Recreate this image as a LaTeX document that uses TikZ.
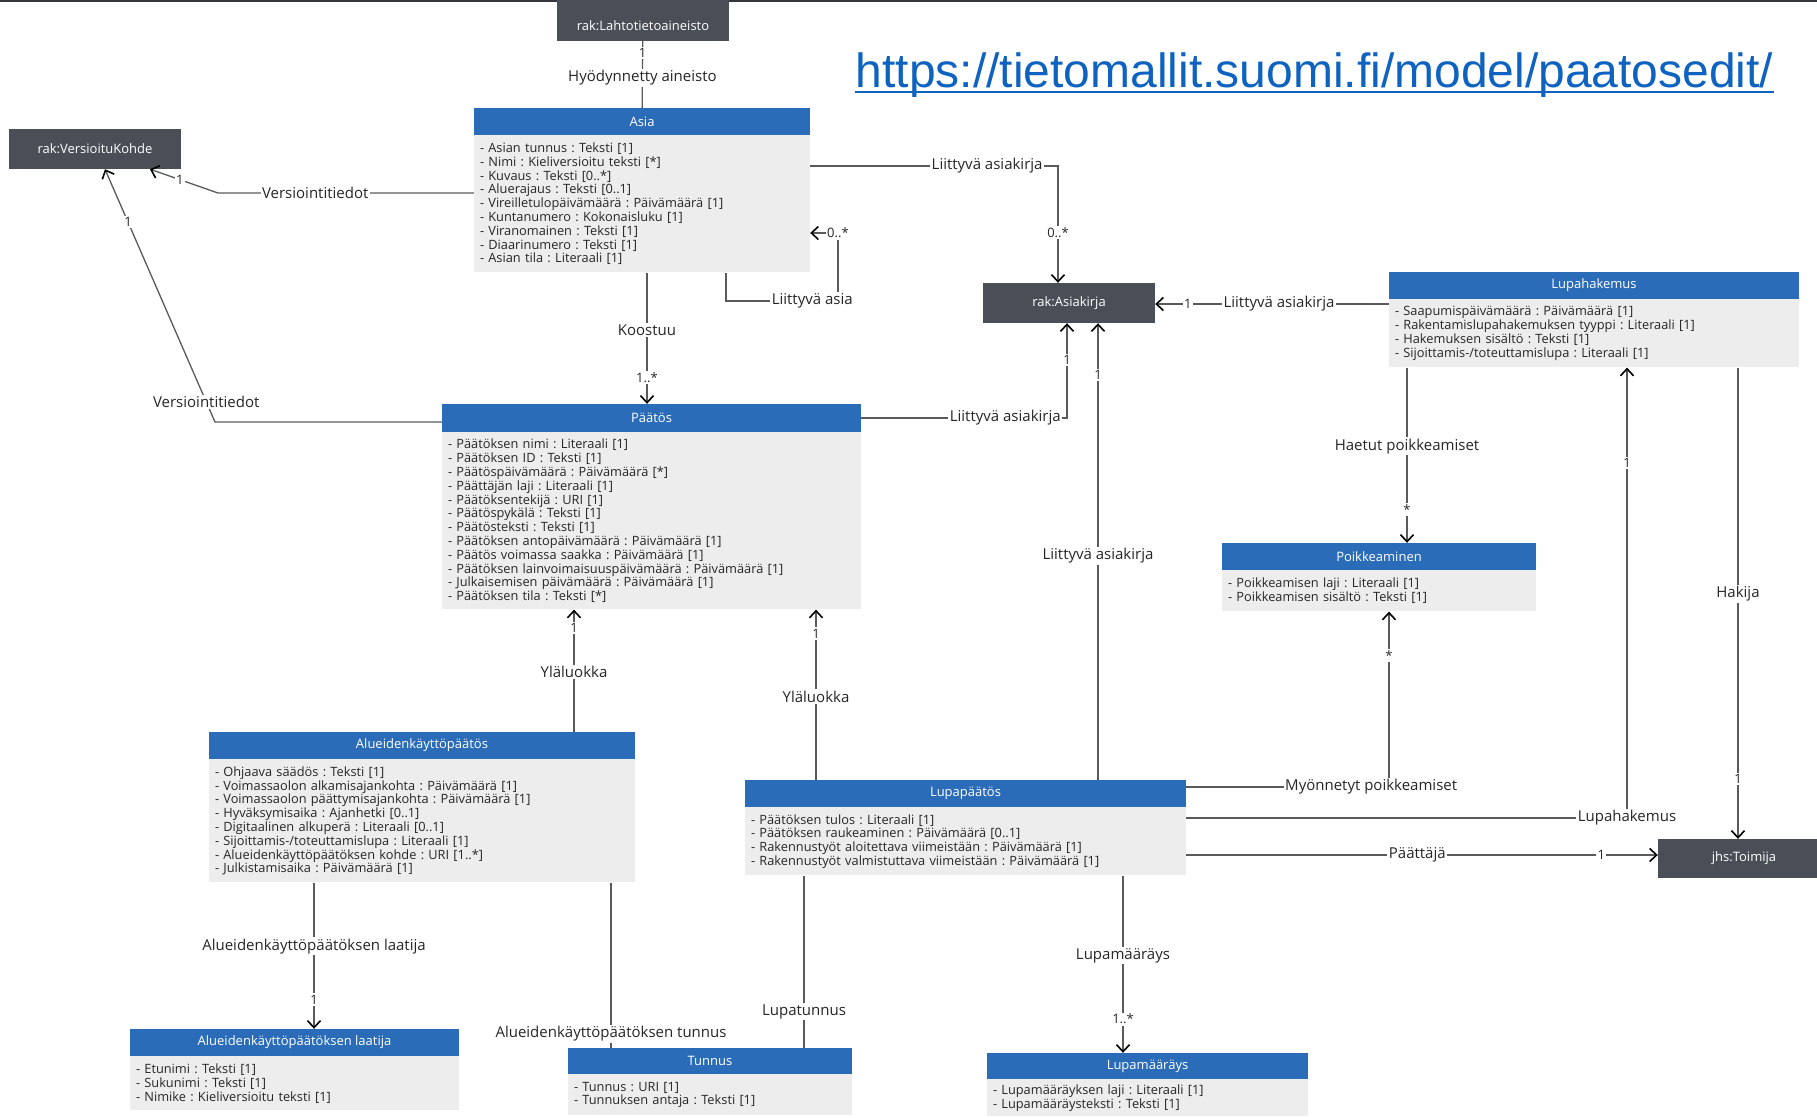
\documentclass[tikz,border=0pt]{standalone}
\usepackage{fontspec}
\setmainfont{Open Sans}
\newfontfamily\urlfont{Liberation Sans}
\usetikzlibrary{arrows.meta,positioning}
\frenchspacing

\definecolor{headblue}{HTML}{2B6CB9}
\definecolor{bodygray}{HTML}{EDEDED}
\definecolor{extgray}{HTML}{4A4F57}
\definecolor{linegray}{HTML}{5A5A5A}
\definecolor{txtdark}{HTML}{262626}
\definecolor{linkblue}{HTML}{0E62C0}

\begin{document}
\begin{tikzpicture}[x=1pt,y=-1pt,
            head/.style={fill=headblue,text=white,inner sep=0pt,font=\fontsize{13}{14}\selectfont},
            attrs/.style={fill=bodygray,text=txtdark,align=left,inner xsep=6pt,inner ysep=0pt,font=\fontsize{12.8}{13.8}\selectfont},
            ext/.style={fill=extgray,text=white,inner sep=0pt,minimum width=172pt,minimum height=40pt,font=\fontsize{13}{14}\selectfont},
            lab/.style={fill=white,text=txtdark,inner sep=1.5pt,font=\fontsize{15}{16}\selectfont},
            mult/.style={lab,font=\fontsize{13}{14}\selectfont},
            plain/.style={draw=linegray,line width=1.3pt},
            assoc/.style={plain,-{Straight Barb[length=7pt,width=13pt,line width=1.6pt,color=black]}}
          ]
          \useasboundingbox (0,0) rectangle (1817,1117);
          \draw[extgray!70!black,line width=2pt] (0,1) -- (1817,1);

          %link
          \node[font=\urlfont\fontsize{48}{50}\selectfont,text=linkblue,inner sep=0pt,anchor=base] (url) at (1314.5,87) {https://tietomallit.suomi.fi/model/paatosedit/};
          \draw[linkblue,line width=2.6pt] ([yshift=-5pt]url.base west) -- ([yshift=-5pt]url.base east);

          %external classes
          \node[ext,text depth=10pt,text height=36pt,anchor=south] (lahto) at (643,41) {rak:Lahtotietoaineisto};
          \node[ext] (versio) at (95,149) {rak:VersioituKohde};
          \node[ext] (asiakirja) at (1069,303) {rak:Asiakirja};
          \node[ext,minimum height=39pt] (toimija) at (1744,858.5) {jhs:Toimija};

          %classes
          \node[head,minimum width=336pt,minimum height=27pt] (asia) at (642,121.5) {Asia};
          \node[attrs,text width=324pt,minimum height=137pt,below=0pt of asia] (asiaB) {- Asian tunnus : Teksti [1]\\- Nimi : Kieliversioitu teksti [*]\\- Kuvaus : Teksti [0..*]\\- Aluerajaus : Teksti [0..1]\\- Vireilletulopäivämäärä : Päivämäärä [1]\\- Kuntanumero : Kokonaisluku [1]\\- Viranomainen : Teksti [1]\\- Diaarinumero : Teksti [1]\\- Asian tila : Literaali [1]};

          \node[head,minimum width=419pt,minimum height=28pt] (paatos) at (651.5,418) {Päätös};
          \node[attrs,text width=407pt,minimum height=177pt,below=0pt of paatos] (paatosB) {- Päätöksen nimi : Literaali [1]\\- Päätöksen ID : Teksti [1]\\- Päätöspäivämäärä : Päivämäärä [*]\\- Päättäjän laji : Literaali [1]\\- Päätöksentekijä : URI [1]\\- Päätöspykälä : Teksti [1]\\- Päätösteksti : Teksti [1]\\- Päätöksen antopäivämäärä : Päivämäärä [1]\\- Päätös voimassa saakka : Päivämäärä [1]\\- Päätöksen lainvoimaisuuspäivämäärä : Päivämäärä [1]\\- Julkaisemisen päivämäärä : Päivämäärä [1]\\- Päätöksen tila : Teksti [*]};

          \node[head,minimum width=410pt,minimum height=27pt] (lupah) at (1594,285.5) {Lupahakemus};
          \node[attrs,text width=398pt,minimum height=68pt,below=0pt of lupah] (lupahB) {- Saapumispäivämäärä : Päivämäärä [1]\\- Rakentamislupahakemuksen tyyppi : Literaali [1]\\- Hakemuksen sisältö : Teksti [1]\\- Sijoittamis-/toteuttamislupa : Literaali [1]};

          \node[head,minimum width=314pt,minimum height=27pt] (poik) at (1379,556.5) {Poikkeaminen};
          \node[attrs,text width=302pt,minimum height=41pt,below=0pt of poik] (poikB) {- Poikkeamisen laji : Literaali [1]\\- Poikkeamisen sisältö : Teksti [1]};

          \node[head,minimum width=426pt,minimum height=27pt] (alue) at (422,745.5) {Alueidenkäyttöpäätös};
          \node[attrs,text width=414pt,minimum height=123pt,below=0pt of alue] (alueB) {- Ohjaava säädös : Teksti [1]\\- Voimassaolon alkamisajankohta : Päivämäärä [1]\\- Voimassaolon päättymisajankohta : Päivämäärä [1]\\- Hyväksymisaika : Ajanhetki [0..1]\\- Digitaalinen alkuperä : Literaali [0..1]\\- Sijoittamis-/toteuttamislupa : Literaali [1]\\- Alueidenkäyttöpäätöksen kohde : URI [1..*]\\- Julkistamisaika : Päivämäärä [1]};

          \node[head,minimum width=441pt,minimum height=27pt] (lupap) at (965.5,793.5) {Lupapäätös};
          \node[attrs,text width=429pt,minimum height=68pt,below=0pt of lupap] (lupapB) {- Päätöksen tulos : Literaali [1]\\- Päätöksen raukeaminen : Päivämäärä [0..1]\\- Rakennustyöt aloitettava viimeistään : Päivämäärä [1]\\- Rakennustyöt valmistuttava viimeistään : Päivämäärä [1]};

          \node[head,minimum width=321pt,minimum height=26pt] (lupam) at (1147.5,1066) {Lupamääräys};
          \node[attrs,text width=309pt,minimum height=37pt,below=0pt of lupam] (lupamB) {- Lupamääräyksen laji : Literaali [1]\\- Lupamääräysteksti : Teksti [1]};

          \node[head,minimum width=284pt,minimum height=26pt] (tunnus) at (710,1061) {Tunnus};
          \node[attrs,text width=272pt,minimum height=41pt,below=0pt of tunnus] (tunnusB) {- Tunnus : URI [1]\\- Tunnuksen antaja : Teksti [1]};

          \node[head,minimum width=329pt,minimum height=27pt] (laatija) at (294.5,1042.5) {Alueidenkäyttöpäätöksen laatija};
          \node[attrs,text width=317pt,minimum height=54pt,below=0pt of laatija] (laatijaB) {- Etunimi : Teksti [1]\\- Sukunimi : Teksti [1]\\- Nimike : Kieliversioitu teksti [1]};

          %associations
          \draw[plain] (lahto) -- node[mult,pos=0.18]{1} node[lab,pos=0.55]{Hyödynnetty aineisto} (asia);
          \draw[assoc] (asiaB.west |- 0,193) -- node[lab,pos=0.62]{Versiointitiedot} (218,193) -- node[mult,pos=0.56]{1} ([xshift=55pt]versio.south);
          \draw[assoc] ([yshift=-4pt]paatos.west) -- (215,422) -- node[lab,pos=0.08]{Versiointitiedot} node[mult,pos=0.79]{1} ([xshift=10pt]versio.south);
          \draw[assoc] (asiaB.east |- 0,166) -| node[lab,pos=0.357]{Liittyvä asiakirja} node[mult,pos=0.786]{0..*} ([xshift=-11pt]asiakirja.north);
          \draw[assoc] (asiaB.south -| 726,0) -- (726,301) -- node[lab,pos=0.77]{Liittyvä asia} (838,301) -- (838,233) -- node[mult,pos=0]{0..*} (asiaB.east |- 0,233);
          \draw[assoc] (asiaB.south -| 647,0) -- node[lab,pos=0.44]{Koostuu} node[mult,pos=0.8]{1..*} (paatos.north -| 647,0);
          \draw[assoc] (paatos.east) -| node[lab,pos=0.35]{Liittyvä asiakirja} node[mult,pos=0.805]{1} ([xshift=-2pt]asiakirja.south);
          \draw[assoc] (lupap.north -| 1098,0) -- node[lab,pos=0.49]{Liittyvä asiakirja} node[mult,pos=0.886]{1} (asiakirja.south -| 1098,0);
          \draw[assoc] (lupahB.west |- 0,304) -- node[lab,pos=0.47]{Liittyvä asiakirja} node[mult,pos=0.86]{1} (asiakirja.east |- 0,304);
          \draw[assoc] (lupahB.south -| 1407,0) -- node[lab,pos=0.45]{Haetut poikkeamiset} node[mult,pos=0.81]{*} (poik.north -| 1407,0);
          \draw[assoc] (lupap.east |- 0,787) -| node[lab,pos=0.456]{Myönnetyt poikkeamiset} node[mult,pos=0.875]{*} (poikB.south -| 1389,0);
          \draw[assoc] (lupapB.east |- 0,818) -| node[lab,pos=0.5]{Lupahakemus} node[mult,pos=0.894]{1} (lupahB.south -| 1627,0);
          \draw[assoc] (lupahB.south -| 1738,0) -- node[lab,pos=0.48]{Hakija} node[mult,pos=0.873]{1} (toimija.north -| 1738,0);
          \draw[assoc] (lupapB.east |- 0,855) -- node[lab,pos=0.49]{Päättäjä} node[mult,pos=0.88]{1} (toimija.west |- 0,855);
          \draw[assoc] (lupapB.south -| 1123,0) -- node[lab,pos=0.45]{Lupamääräys} node[mult,pos=0.81]{1..*} (lupam.north -| 1123,0);
          \draw[plain] (lupapB.south -| 804,0) -- node[lab,pos=0.79]{Lupatunnus} (tunnus.north -| 804,0);
          \draw[plain] (alueB.south -| 611,0) -- node[lab,pos=0.916]{Alueidenkäyttöpäätöksen tunnus} (tunnus.north -| 611,0);
          \draw[assoc] (alueB.south -| 314,0) -- node[lab,pos=0.435]{Alueidenkäyttöpäätöksen laatija} node[mult,pos=0.8]{1} (laatija.north -| 314,0);
          \draw[assoc] (alue.north -| 574,0) -- node[lab,pos=0.49]{Yläluokka} node[mult,pos=0.85]{1} (paatosB.south -| 574,0);
          \draw[assoc] (lupap.north -| 816,0) -- node[lab,pos=0.49]{Yläluokka} node[mult,pos=0.86]{1} (paatosB.south -| 816,0);
      \end{tikzpicture}
\end{document}
